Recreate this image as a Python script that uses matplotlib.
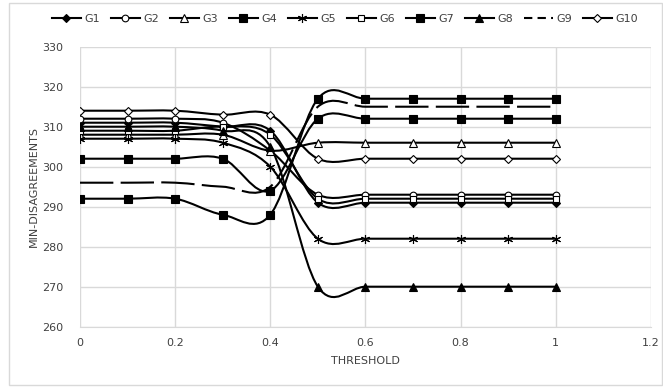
import numpy as np
import matplotlib
matplotlib.use("Agg")
import matplotlib.pyplot as plt
from matplotlib.path import Path
from matplotlib.patches import PathPatch, Rectangle
from matplotlib.lines import Line2D

threshold = [0, 0.1, 0.2, 0.3, 0.4, 0.5, 0.6, 0.7, 0.8, 0.9, 1.0]

g1 = [311, 311, 311, 310, 309, 291, 291, 291, 291, 291, 291]
g2 = [312, 312, 312, 311, 304, 293, 293, 293, 293, 293, 293]
g3 = [308, 308, 308, 308, 304, 306, 306, 306, 306, 306, 306]
g4 = [302, 302, 302, 302, 294, 312, 312, 312, 312, 312, 312]
g5 = [307, 307, 307, 306, 300, 282, 282, 282, 282, 282, 282]
g6 = [309, 309, 309, 310, 308, 292, 292, 292, 292, 292, 292]
g7 = [292, 292, 292, 288, 288, 317, 317, 317, 317, 317, 317]
g8 = [310, 310, 310, 309, 305, 270, 270, 270, 270, 270, 270]
g9 = [296, 296, 296, 295, 295, 315, 315, 315, 315, 315, 315]
g10 = [314, 314, 314, 313, 313, 302, 302, 302, 302, 302, 302]

names = ["G1", "G2", "G3", "G4", "G5", "G6", "G7", "G8", "G9", "G10"]
series = [g1, g2, g3, g4, g5, g6, g7, g8, g9, g10]

# marker, filled?, size
styles = {
    "G1": ("D", True, 4),
    "G2": ("o", False, 4.8),
    "G3": ("^", False, 5.2),
    "G4": ("s", True, 5.2),
    "G5": ((6, 2, 0), True, 6.5),
    "G6": ("s", False, 4.8),
    "G7": ("s", True, 5.2),
    "G8": ("^", True, 5.2),
    "G9": (None, True, 0),
    "G10": ("D", False, 4),
}


def smooth_path(x, y):
    # excel style smoothed line: cubic bezier through the points
    pts = np.column_stack([x, y]).astype(float)
    n = len(pts)
    verts = [pts[0]]
    codes = [Path.MOVETO]
    for i in range(n - 1):
        p0 = pts[i - 1] if i > 0 else pts[i]
        p1 = pts[i]
        p2 = pts[i + 1]
        p3 = pts[i + 2] if i + 2 < n else pts[i + 1]
        c1 = p1 + (p2 - p0) / 6.0
        c2 = p2 - (p3 - p1) / 6.0
        verts += [c1, c2, p2]
        codes += [Path.CURVE4] * 3
    return Path(verts, codes)


fig = plt.figure(figsize=(6.63, 3.88), dpi=100)
ax = fig.add_axes([0.1207, 0.158, 0.861, 0.7216])

grid_col = "#d9d9d9"
text_col = "#404040"

handles = []
for name, vals in zip(names, series):
    marker, filled, ms = styles[name]
    ls = (0, (16, 3.5)) if name == "G9" else "-"
    patch = PathPatch(smooth_path(threshold, vals), facecolor="none",
                      edgecolor="black", lw=1.5, linestyle=ls, zorder=3)
    ax.add_patch(patch)
    if marker is not None:
        ax.plot(threshold, vals, linestyle="none", marker=marker, markersize=ms,
                markerfacecolor="black" if filled else "white",
                markeredgecolor="black", markeredgewidth=0.8, zorder=4)
    handles.append(Line2D([], [], color="black", lw=1.5,
                          linestyle=(0, (4, 2.5)) if name == "G9" else "-",
                          marker=marker, markersize=ms,
                          markerfacecolor="black" if filled else "white",
                          markeredgecolor="black", markeredgewidth=0.8))

ax.set_xlim(0, 1.2)
ax.set_ylim(260, 330)
ax.set_xticks([0, 0.2, 0.4, 0.6, 0.8, 1, 1.2])
ax.set_xticklabels(["0", "0.2", "0.4", "0.6", "0.8", "1", "1.2"])
ax.set_yticks(range(260, 331, 10))
ax.grid(True, color=grid_col, lw=1)
ax.set_axisbelow(True)
for s in ["top", "right", "left"]:
    ax.spines[s].set_visible(False)
ax.spines["bottom"].set_color(grid_col)
ax.tick_params(axis="x", length=0, labelsize=8, colors=text_col, pad=8)
ax.tick_params(axis="y", length=0, labelsize=8, colors=text_col, pad=12)
ax.set_xlabel("THRESHOLD", fontsize=8, color=text_col, labelpad=6)
ax.set_ylabel("MIN-DISAGREEMENTS", fontsize=8, color=text_col)
ax.yaxis.set_label_coords(-0.072, 0.5)

fig.legend(handles, names, loc="center", bbox_to_anchor=(0.52, 0.951), ncol=10,
           frameon=False, fontsize=8, handlelength=2.6, handletextpad=0.3,
           columnspacing=1.0, labelcolor=text_col)

fig.patches.append(Rectangle((0.013, 0.008), 0.985, 0.985, transform=fig.transFigure,
                             fill=False, edgecolor=grid_col, lw=1))

fig.savefig("out.png", dpi=100)
